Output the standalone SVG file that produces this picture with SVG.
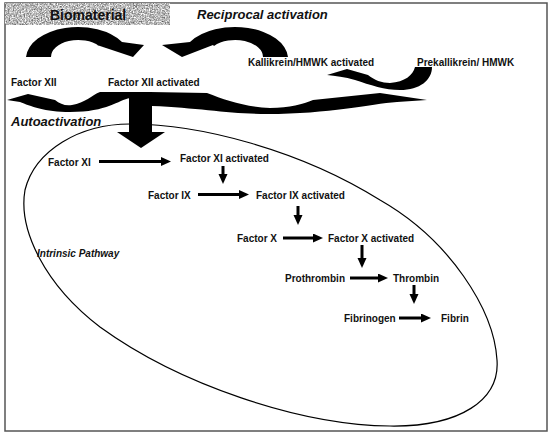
<svg xmlns="http://www.w3.org/2000/svg" width="550" height="436" viewBox="0 0 550 436">
<style>
.lbl{font-family:"Liberation Sans",Arial,sans-serif;font-weight:bold;font-size:10px;fill:#111}
.ttl{font-family:"Liberation Sans",Arial,sans-serif;font-weight:bold;font-style:italic;fill:#111}
.blk{fill:#000;stroke:none}
.ar{stroke:#000;stroke-width:3;fill:none;marker-end:url(#ah)}
</style>
<defs>
<marker id="ah" markerUnits="userSpaceOnUse" markerWidth="11" markerHeight="10" refX="2" refY="4.5" orient="auto">
<path d="M0,0 L10,4.5 L0,9 Z" fill="#000"/>
</marker>
<filter id="noise" x="0" y="0" width="100%" height="100%" color-interpolation-filters="sRGB">
<feTurbulence type="fractalNoise" baseFrequency="0.75" numOctaves="3" seed="7" result="t"/>
<feColorMatrix in="t" type="saturate" values="0" result="g"/>
<feComponentTransfer in="g" result="c">
<feFuncR type="linear" slope="1.5" intercept="-0.02"/>
<feFuncG type="linear" slope="1.5" intercept="-0.02"/>
<feFuncB type="linear" slope="1.5" intercept="-0.02"/>
<feFuncA type="linear" slope="0" intercept="1"/>
</feComponentTransfer>
<feComposite in="c" in2="SourceGraphic" operator="in"/>
</filter>
</defs>
<rect x="0" y="0" width="550" height="436" fill="#fff"/>
<rect x="5" y="3" width="542" height="428" fill="none" stroke="#555" stroke-width="1.5"/>

<g id="biomaterial">
<rect x="5" y="3" width="165" height="22" fill="#b8b8b8"/>
<rect x="5" y="3" width="165" height="22" fill="#b8b8b8" filter="url(#noise)"/>
<text x="50" y="20" class="ttl" style="font-style:normal;font-size:14px">Biomaterial</text>
</g>
<g id="reciprocal-label"><text x="197" y="19" class="ttl" font-size="13">Reciprocal activation</text></g>
<g id="autoactivation-label"><text x="11" y="126" class="ttl" font-size="13">Autoactivation</text></g>

<g id="pathway">
<path d="M130,124 C80,124 35,150 25,190 C18,230 45,285 100,327 C180,385 300,425 390,426 C460,427 500,400 497,360 C494,310 450,240 380,200 C300,150 200,124 130,124 Z" fill="none" stroke="#000" stroke-width="1.2"/>
<text x="37" y="257" class="ttl" font-size="10">Intrinsic Pathway</text>
</g>

<g id="factor-xii"><text x="11" y="86" class="lbl">Factor XII</text></g>
<g id="factor-xii-activated"><text x="108" y="86" class="lbl">Factor XII activated</text></g>
<g id="kallikrein-activated"><text x="248" y="66" class="lbl">Kallikrein/HMWK activated</text></g>
<g id="prekallikrein"><text x="417" y="66" class="lbl">Prekallikrein/ HMWK</text></g>
<g id="factor-xi"><text x="48" y="165.5" class="lbl">Factor XI</text></g>
<g id="factor-xi-activated"><text x="180" y="161.5" class="lbl">Factor XI activated</text></g>
<g id="factor-ix"><text x="148" y="198.5" class="lbl">Factor IX</text></g>
<g id="factor-ix-activated"><text x="256" y="198.5" class="lbl">Factor IX activated</text></g>
<g id="factor-x"><text x="237" y="241.5" class="lbl">Factor X</text></g>
<g id="factor-x-activated"><text x="328" y="241.5" class="lbl">Factor X activated</text></g>
<g id="prothrombin"><text x="285" y="281.5" class="lbl">Prothrombin</text></g>
<g id="thrombin"><text x="393" y="281.5" class="lbl">Thrombin</text></g>
<g id="fibrinogen"><text x="344" y="321.5" class="lbl">Fibrinogen</text></g>
<g id="fibrin"><text x="441" y="321.5" class="lbl">Fibrin</text></g>

<g id="connectors">
<path class="blk" d="M26,57 A52,32 0 0 1 122,42 L144,45 L133,57 L97,45 L99,46 A27.2,17 0 0 0 51,57 Z"/>
<path class="blk" d="M288,57 A53.1,32 0 0 0 190,42 L162,45 L182,57 L213,45 L214,46 A27.8,17 0 0 1 263,57 Z"/>
<path class="blk" d="M7,100 L28,94 L55,100 C60,104 65,106 72,105 C85,103 92,95 100,92 L130,92 L130,98 C118,100 108,112 70,112 C45,112 30,106 20,102 Z"/>
<path class="blk" d="M129,92 L152,92 L152,132 L165,132 L141,148 L117,132 L129,132 Z"/>
<path class="blk" d="M150,92 L207,93 C225,100 245,107 270,108 C290,108 303,104 313,100 L380,93 L427,100 L397,102 C370,104 330,114 267,114 C230,114 200,108 152,106 Z"/>
<path class="blk" d="M327,75 L347,69 L368,75 C374,80 382,83 390,83 C405,82 413,75 415,67 L432,67 C432,80 420,90 400,90 C385,90 370,85 355,80 C345,77 335,76 327,75 Z"/>
<line class="ar" x1="99" y1="161.5" x2="163" y2="161.5"/>
<line class="ar" x1="223" y1="166" x2="223" y2="176"/>
<line class="ar" x1="198" y1="194.5" x2="241" y2="194.5"/>
<line class="ar" x1="298" y1="206" x2="298" y2="217"/>
<line class="ar" x1="283" y1="238" x2="315" y2="238"/>
<line class="ar" x1="362" y1="245" x2="362" y2="260"/>
<line class="ar" x1="350" y1="278" x2="380" y2="278"/>
<line class="ar" x1="414" y1="285" x2="414" y2="296"/>
<line class="ar" x1="399" y1="318" x2="423" y2="318"/>
</g>
</svg>
